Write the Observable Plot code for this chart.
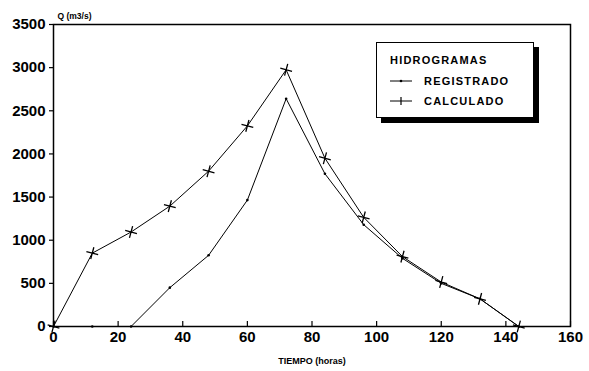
<!DOCTYPE html>
<html>
<head>
<meta charset="utf-8">
<script src="https://cdn.jsdelivr.net/npm/d3@7"></script>
<script src="https://cdn.jsdelivr.net/npm/@observablehq/plot@0.6"></script>
<style>
  html, body { margin: 0; padding: 0; background: #fff; }
  #wrap { position: relative; width: 589px; height: 371px; }
  .legend {
    position: absolute; left: 376px; top: 42px; width: 158px; height: 76px;
    border: 1px solid #000; background: #fff; box-shadow: 5px 5px 0 #000;
    font-family: "Liberation Sans", Arial, sans-serif; font-weight: bold;
    font-size: 11px; letter-spacing: 1.2px; color: #000; box-sizing: border-box;
  }
  .legend .row { position: absolute; left: 13px; white-space: nowrap; display: flex; align-items: center; }
  .legend svg { margin-right: 12px; }
</style>
</head>
<body>
<div id="wrap"></div>
<script>
const hours = [0, 12, 24, 36, 48, 60, 72, 84, 96, 108, 120, 132, 144];
const registrado = [0, 0, 0, 450, 825, 1465, 2640, 1770, 1180, 790, 500, 320, 0];
const calculado = [0, 850, 1095, 1395, 1800, 2325, 2975, 1950, 1265, 810, 515, 320, 0];
const xTicks = [0, 20, 40, 60, 80, 100, 120, 140, 160];
const yTicks = [0, 500, 1000, 1500, 2000, 2500, 3000, 3500];
const seriesNames = ["REGISTRADO", "CALCULADO"];
const legendTitle = "HIDROGRAMAS";
const yTitle = "Q (m3/s)";
const xTitle = "TIEMPO (horas)";

const reg = hours.map((h, i) => ({h, q: registrado[i]}));
const cal = hours.map((h, i) => ({h, q: calculado[i]}));
const fmt = d3.format("d");

const chart = Plot.plot({
  width: 589, height: 371,
  marginLeft: 53, marginRight: 19, marginTop: 24, marginBottom: 45,
  style: {fontFamily: "Liberation Sans, Arial, sans-serif", fontWeight: "bold", fontSize: "14px", color: "#000", background: "#fff"},
  x: {domain: [0, 160], label: null},
  y: {domain: [0, 3500], label: null},
  marks: [
    Plot.frame({stroke: "#000", strokeWidth: 1.5}),
    Plot.axisX({ticks: xTicks, tickSize: -5, tickPadding: 10, label: null, fontSize: 15, tickFormat: fmt, strokeWidth: 1.2, style: {letterSpacing: "0.8px"}}),
    Plot.axisY({ticks: yTicks, tickSize: 4, tickPadding: 4, label: null, fontSize: 15, tickFormat: fmt, strokeWidth: 1.2, style: {letterSpacing: "0.8px"}}),
    Plot.text([yTitle], {frameAnchor: "top-left", dx: 4, dy: -12, textAnchor: "start", fontSize: 8.5, style: {letterSpacing: "0.6px"}}),
    Plot.text([xTitle], {frameAnchor: "bottom", dy: 37, fontSize: 9, style: {letterSpacing: "0.6px"}}),
    Plot.line(reg, {x: "h", y: "q", stroke: "#000", strokeWidth: 1}),
    Plot.dot(reg, {x: "h", y: "q", r: 1.3, fill: "#000"}),
    Plot.line(cal, {x: "h", y: "q", stroke: "#000", strokeWidth: 1}),
    Plot.dot(cal, {x: "h", y: "q", symbol: "plus", r: 4, stroke: "#000", strokeWidth: 1.3, rotate: 15})
  ]
});
const wrap = document.getElementById("wrap");
wrap.appendChild(chart);

const legend = document.createElement("div");
legend.className = "legend";
const t = document.createElement("div");
t.className = "row"; t.style.top = "11px"; t.textContent = legendTitle;
legend.appendChild(t);
seriesNames.forEach((name, i) => {
  const r = document.createElement("div");
  r.className = "row"; r.style.top = (32 + i * 20) + "px";
  const marker = i === 0
    ? '<circle cx="11" cy="5" r="1.3" fill="#000"/>'
    : '<path d="M11,1V9" stroke="#000" stroke-width="1.2"/>';
  r.innerHTML = '<svg width="22" height="10"><line x1="0" y1="5" x2="22" y2="5" stroke="#000" stroke-width="1"/>' + marker + '</svg>' + name;
  legend.appendChild(r);
});
wrap.appendChild(legend);
</script>
</body>
</html>
